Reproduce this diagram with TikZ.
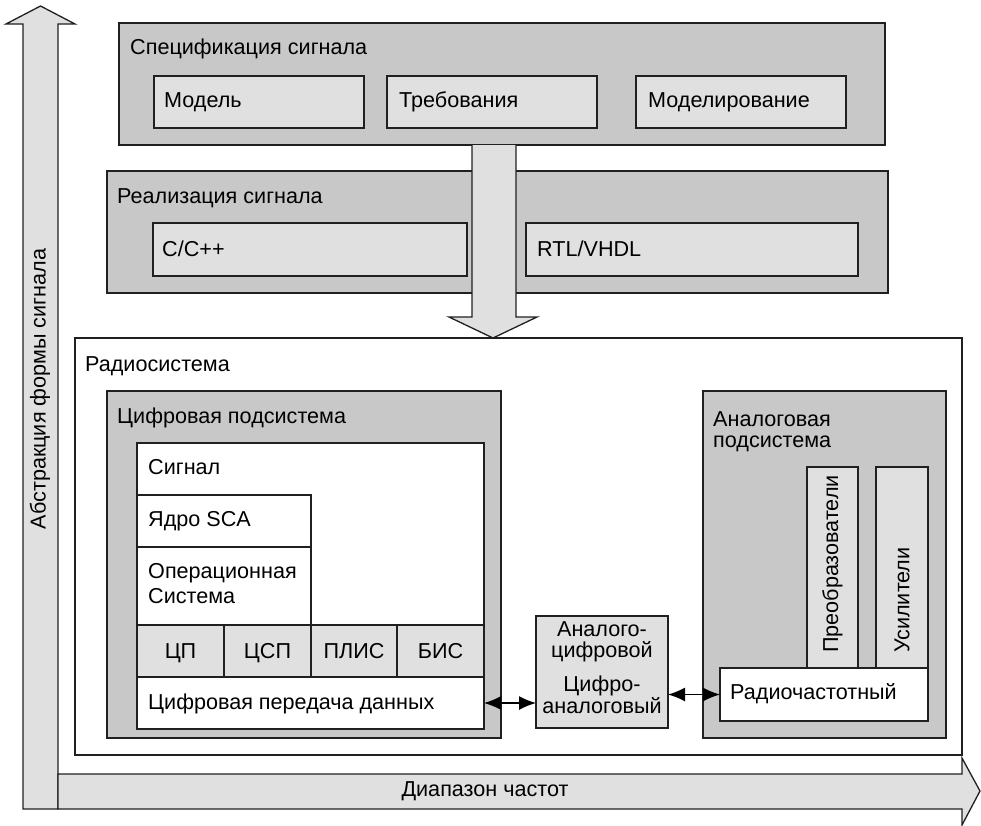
\documentclass[tikz,border=0pt]{standalone}
\usepackage{fontspec}
\setmainfont{Liberation Sans}
\usetikzlibrary{fit,arrows.meta}
\definecolor{boxdark}{HTML}{C8C8C8}
\definecolor{boxlight}{HTML}{E0E0E0}
\definecolor{edge}{HTML}{202020}

\begin{document}
\begin{tikzpicture}[x=1pt,y=-1pt,
  every node/.style={font=\fontsize{21.6}{22}\selectfont},
  frame/.style={draw=edge,line width=1.3pt,inner sep=0pt,outer sep=0pt},
  darkbox/.style={frame,fill=boxdark},
  lightbox/.style={frame,fill=boxlight},
  whitebox/.style={frame,fill=white},
  lbl/.style={inner sep=0pt,anchor=base west},
  clbl/.style={inner sep=0pt,anchor=base},
  bigarrow/.style={draw=edge,line width=1.3pt,fill=boxlight,line join=miter},
  link/.style={draw=black,line width=1.3pt,{Latex[length=17pt,width=14pt]}-{Latex[length=17pt,width=14pt]}}
]
\useasboundingbox (0,0) rectangle (981,825);

% axis arrows
\draw[bigarrow] (23,809) -- (23,24) -- (6,24) -- (40.5,6) -- (75,24) -- (58,24) -- (58,809) -- cycle;
\draw[bigarrow] (58,774) -- (962,774) -- (962,758) -- (980,791) -- (962,825) -- (962,809) -- (58,809) -- cycle;
\node[rotate=90,inner sep=0pt] (ax) at (40,389) {Абстракция формы сигнала};
\node[inner sep=0pt] (fx) at (485,791) {Диапазон частот};

% waveform specification
\node[darkbox,fit={(119,23) (885,145)}] (spec) {};
\node[lbl] (specT) at (130,54) {Спецификация сигнала};
\node[lightbox,fit={(154,76) (364,128)}] (model) {};
\node[lbl] at (164,107) {Модель};
\node[lightbox,fit={(387,76) (597,128)}] (req) {};
\node[lbl] at (399,107) {Требования};
\node[lightbox,fit={(636,76) (846,128)}] (sim) {};
\node[lbl] at (648,107) {Моделирование};

% waveform implementation
\node[darkbox,fit={(107,171) (888,293)}] (impl) {};
\node[lbl] (implT) at (117,203) {Реализация сигнала};
\node[lightbox,fit={(153,223) (467,276)}] (cpp) {};
\node[lbl] at (162,256) {C/C++};
\node[lightbox,fit={(526,223) (858,276)}] (rtl) {};
\node[lbl] at (537,256) {RTL/VHDL};

% flow into the radio system
\draw[bigarrow] (472,145) -- (472,317) -- (449,317) -- (493,338) -- (537,317) -- (516,317) -- (516,145);

% radio system
\node[whitebox,fit={(75,338) (962,755)}] (radio) {};
\node[lbl] (radioT) at (85,371) {Радиосистема};

% digital subsystem
\node[darkbox,fit={(107,391) (501,738)}] (dig) {};
\node[lbl] (digT) at (117,423) {Цифровая подсистема};
\node[whitebox,fit={(137,443) (484,729)}] (wave) {};
\node[lbl] at (148,474) {Сигнал};
\node[whitebox,fit={(137,495) (311,547)}] (sca) {};
\node[lbl] at (148,526) {Ядро SCA};
\node[whitebox,fit={(137,547) (311,625)}] (os) {};
\node[lbl] at (148,578) {Операционная};
\node[lbl] at (148,603) {Система};
\node[lightbox,fit={(137,625) (224,677)}] (cpu) {};
\node[clbl] at (180.5,658) {ЦП};
\node[lightbox,fit={(224,625) (311,677)}] (dsp) {};
\node[clbl] at (267.5,658) {ЦСП};
\node[lightbox,fit={(311,625) (397,677)}] (fpga) {};
\node[clbl] at (354,658) {ПЛИС};
\node[lightbox,fit={(397,625) (484,677)}] (asic) {};
\node[clbl] at (440.5,658) {БИС};
\node[whitebox,fit={(137,677) (484,729)}] (tx) {};
\node[lbl] at (148,709) {Цифровая передача данных};

% converters
\node[lightbox,fit={(536,616) (668,728)}] (adc) {};
\node[clbl] at (602,636) {Аналого-};
\node[clbl] at (602,657) {цифровой};
\node[clbl] at (602,691) {Цифро-};
\node[clbl] at (602,713) {аналоговый};

% analog subsystem
\node[darkbox,fit={(703,391) (946,738)}] (ana) {};
\node[lbl] at (713,426) {Аналоговая};
\node[lbl] at (713,447) {подсистема};
\node[lightbox,fit={(807,467) (858,668)}] (conv) {};
\node[rotate=90,inner sep=0pt,anchor=west] at (832.5,653) {Преобразователи};
\node[lightbox,fit={(876,467) (928,668)}] (amp) {};
\node[rotate=90,inner sep=0pt,anchor=west] at (902,653) {Усилители};
\node[whitebox,fit={(720,668) (928,721)}] (rf) {};
\node[lbl] at (730,699) {Радиочастотный};

% links
\draw[link] (tx.east) -- (adc.west |- tx.east);
\draw[link] (adc.east |- rf.west) -- (rf.west);
\end{tikzpicture}
\end{document}
